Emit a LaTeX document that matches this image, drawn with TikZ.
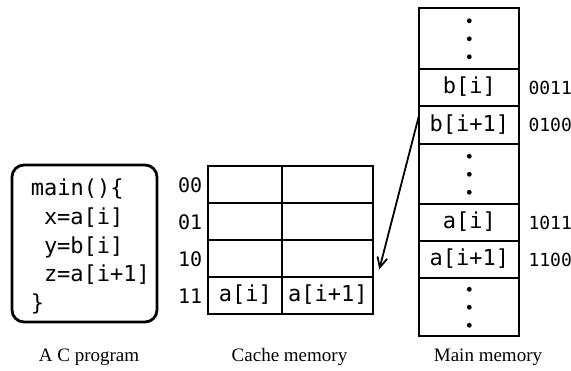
\documentclass[tikz,border=0pt]{standalone}
\usepackage{fontspec}
\setmainfont{Liberation Serif}
\newfontfamily\codefont{DejaVu Sans Mono}
\usetikzlibrary{matrix, positioning, arrows.meta}

\begin{document}
\begin{tikzpicture}[
  x=1pt, y=-1pt,
  cell/.style={
    draw,
    line width=2.2pt,
    inner sep=0pt,
    outer sep=0pt,
    minimum width=100pt,
    minimum height=37pt,
    text height=16pt,
    text depth=4pt,
    font=\codefont\fontsize{22pt}{26pt}\selectfont
  },
  label/.style={
    inner sep=0pt,
    font=\codefont\fontsize{20pt}{24pt}\selectfont
  },
  address/.style={
    inner sep=0pt,
    font=\codefont\fontsize{18pt}{22pt}\selectfont
  },
  caption/.style={
    anchor=base,
    inner sep=0pt,
    font=\fontsize{19pt}{22pt}\selectfont
  },
  fetch arrow/.style={
    -{Straight Barb[length=3.5mm,width=3.5mm,line width=1.8pt]},
    line width=1.8pt
  }
]
\useasboundingbox (0,0) rectangle (571,371);

% the program
\node(prog)[draw, line width=2.8pt, rounded corners=12pt, minimum width=145pt, minimum height=157pt] at (84.5,243.5) {};
\node(src)[anchor=west, align=left, inner sep=0pt, font=\codefont\fontsize{22pt}{28.7pt}\selectfont]
  at ([xshift=20pt, yshift=-3pt]prog.west)
  {main()\{\\ \hspace*{0.6em}x=a[i]\\ \hspace*{0.6em}y=b[i]\\ \hspace*{0.6em}z=a[i+1]\\ \}};

% the cache
\matrix[
  matrix of nodes,
  nodes in empty cells,
  nodes={cell},
  column 1/.style={nodes={minimum width=74pt}},
  column 2/.style={nodes={minimum width=91pt}},
  column sep=-2.2pt,
  row sep=-2.2pt,
  inner sep=0pt,
  anchor=north west
] (cache) at (207,165) {
   & \\
   & \\
   & \\
  a[i] & a[i+1] \\
};

\node(row00)[label, left=6pt of cache-1-1] {00};
\node(row01)[label, left=6pt of cache-2-1] {01};
\node(row10)[label, left=6pt of cache-3-1] {10};
\node(row11)[label, left=6pt of cache-4-1] {11};

% the main memory
\matrix[
  matrix of nodes,
  nodes in empty cells,
  nodes={cell},
  row sep=-2.2pt,
  inner sep=0pt,
  anchor=north west
] (mem) at (418,7) {
  |[minimum height=61pt]| \\
  b[i] \\
  |[minimum height=38pt]| b[i+1] \\
  |[minimum height=60pt]| \\
  a[i] \\
  a[i+1] \\
  |[minimum height=58pt]| \\
};

\foreach \r in {1,4,7}
  \foreach \d in {-18,0,18}
    \fill ([yshift=\d pt]mem-\r-1.center) circle (2.4pt);

\node(addr0011)[address, right=9pt of mem-2-1] {0011};
\node(addr0100)[address, right=9pt of mem-3-1] {0100};
\node(addr1011)[address, right=9pt of mem-5-1] {1011};
\node(addr1100)[address, right=9pt of mem-6-1] {1100};

\draw[fetch arrow] ([yshift=-8pt]mem-3-1.north west) -- ([xshift=6pt, yshift=8pt]cache-3-2.south east);

% captions
\node(capprog)[caption] at (89,362) {A C program};
\node(capcache)[caption] at (289.5,362) {Cache memory};
\node(capmem)[caption] at (488,362) {Main memory};

\end{tikzpicture}
\end{document}
